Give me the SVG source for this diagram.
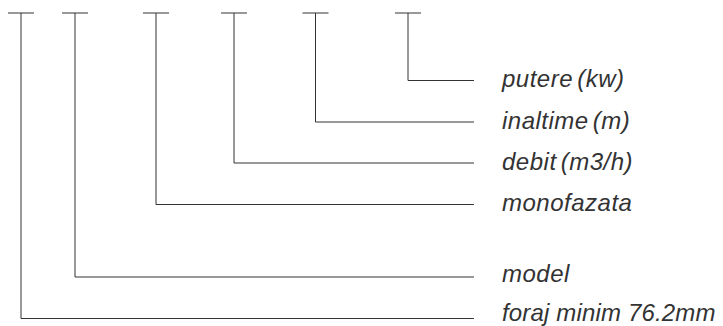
<svg xmlns="http://www.w3.org/2000/svg" width="723" height="326" viewBox="0 0 723 326">
<style>
.ln{fill:none;stroke:#333;stroke-width:1}
.lbl{font-family:"Liberation Sans",Arial,sans-serif;font-style:italic;font-size:24px;fill:#333;letter-spacing:0.5px}
.par{word-spacing:-3px}
</style>
<rect width="723" height="326" fill="#fff"/>
<g id="connectors">
<path class="ln" d="M8,13H34M21,13V318.5H474"/>
<path class="ln" d="M62,13H88M75,13V277H474"/>
<path class="ln" d="M143,13H169M156,13V204.5H474"/>
<path class="ln" d="M221,13H247M234,13V163H474"/>
<path class="ln" d="M302.5,13H328.5M315.5,13V122H474"/>
<path class="ln" d="M395,13H421M408,13V80.5H474"/>
</g>
<g id="label-putere"><text class="lbl par" x="502" y="87">putere (kw)</text></g>
<g id="label-inaltime"><text class="lbl par" x="502" y="128.5">inaltime (m)</text></g>
<g id="label-debit"><text class="lbl par" x="502" y="170">debit (m3/h)</text></g>
<g id="label-monofazata"><text class="lbl" x="502" y="211">monofazata</text></g>
<g id="label-model"><text class="lbl" x="502" y="282">model</text></g>
<g id="label-foraj"><text class="lbl" x="502" y="320.5" textLength="214" lengthAdjust="spacing">foraj minim 76.2mm</text></g>
</svg>
